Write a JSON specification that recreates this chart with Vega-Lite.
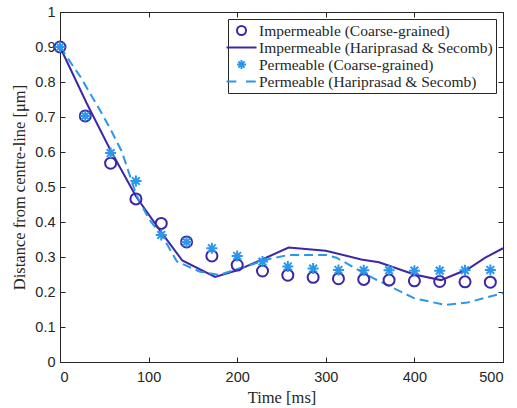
{
  "$schema": "https://vega.github.io/schema/vega-lite/v6.json",
  "width": 443,
  "height": 350,
  "autosize": "none",
  "padding": {"left": 60, "top": 12, "right": 14, "bottom": 46},
  "background": "white",
  "config": {
    "view": {"stroke": "#262626", "strokeWidth": 1},
    "axis": {
      "grid": false,
      "domainColor": "#262626",
      "tickColor": "#262626",
      "tickSize": -5,
      "labelColor": "#262626",
      "labelFont": "Liberation Sans",
      "labelFontSize": 14.5,
      "titleFont": "Liberation Serif",
      "titleFontSize": 16.5,
      "titleFontWeight": "normal",
      "titleColor": "#262626"
    },
    "legend": {
      "labelFont": "Liberation Serif",
      "labelFontSize": 15.5,
      "labelColor": "#262626",
      "labelLimit": 0
    }
  },
  "datasets": {
    "cg": [
      {"series": "Impermeable (Coarse-grained)", "t": 0, "y": 0.9},
      {"series": "Impermeable (Coarse-grained)", "t": 28.57, "y": 0.703},
      {"series": "Impermeable (Coarse-grained)", "t": 57.14, "y": 0.568},
      {"series": "Impermeable (Coarse-grained)", "t": 85.71, "y": 0.466},
      {"series": "Impermeable (Coarse-grained)", "t": 114.29, "y": 0.396},
      {"series": "Impermeable (Coarse-grained)", "t": 142.86, "y": 0.343},
      {"series": "Impermeable (Coarse-grained)", "t": 171.43, "y": 0.303},
      {"series": "Impermeable (Coarse-grained)", "t": 200, "y": 0.277},
      {"series": "Impermeable (Coarse-grained)", "t": 228.57, "y": 0.26},
      {"series": "Impermeable (Coarse-grained)", "t": 257.14, "y": 0.248},
      {"series": "Impermeable (Coarse-grained)", "t": 285.71, "y": 0.242},
      {"series": "Impermeable (Coarse-grained)", "t": 314.29, "y": 0.238},
      {"series": "Impermeable (Coarse-grained)", "t": 342.86, "y": 0.236},
      {"series": "Impermeable (Coarse-grained)", "t": 371.43, "y": 0.234},
      {"series": "Impermeable (Coarse-grained)", "t": 400, "y": 0.232},
      {"series": "Impermeable (Coarse-grained)", "t": 428.57, "y": 0.23},
      {"series": "Impermeable (Coarse-grained)", "t": 457.14, "y": 0.229},
      {"series": "Impermeable (Coarse-grained)", "t": 485.71, "y": 0.228},
      {"series": "Permeable (Coarse-grained)", "t": 0, "y": 0.9},
      {"series": "Permeable (Coarse-grained)", "t": 28.57, "y": 0.703},
      {"series": "Permeable (Coarse-grained)", "t": 57.14, "y": 0.597},
      {"series": "Permeable (Coarse-grained)", "t": 85.71, "y": 0.517},
      {"series": "Permeable (Coarse-grained)", "t": 114.29, "y": 0.363},
      {"series": "Permeable (Coarse-grained)", "t": 142.86, "y": 0.343},
      {"series": "Permeable (Coarse-grained)", "t": 171.43, "y": 0.325},
      {"series": "Permeable (Coarse-grained)", "t": 200, "y": 0.303},
      {"series": "Permeable (Coarse-grained)", "t": 228.57, "y": 0.287},
      {"series": "Permeable (Coarse-grained)", "t": 257.14, "y": 0.273},
      {"series": "Permeable (Coarse-grained)", "t": 285.71, "y": 0.267},
      {"series": "Permeable (Coarse-grained)", "t": 314.29, "y": 0.263},
      {"series": "Permeable (Coarse-grained)", "t": 342.86, "y": 0.262},
      {"series": "Permeable (Coarse-grained)", "t": 371.43, "y": 0.262},
      {"series": "Permeable (Coarse-grained)", "t": 400, "y": 0.261},
      {"series": "Permeable (Coarse-grained)", "t": 428.57, "y": 0.261},
      {"series": "Permeable (Coarse-grained)", "t": 457.14, "y": 0.262},
      {"series": "Permeable (Coarse-grained)", "t": 485.71, "y": 0.263}
    ],
    "hs": [
      {"series": "Impermeable (Hariprasad & Secomb)", "t": 0, "y": 0.9},
      {"series": "Impermeable (Hariprasad & Secomb)", "t": 30, "y": 0.74},
      {"series": "Impermeable (Hariprasad & Secomb)", "t": 57, "y": 0.605},
      {"series": "Impermeable (Hariprasad & Secomb)", "t": 86, "y": 0.472},
      {"series": "Impermeable (Hariprasad & Secomb)", "t": 114, "y": 0.372},
      {"series": "Impermeable (Hariprasad & Secomb)", "t": 138, "y": 0.29},
      {"series": "Impermeable (Hariprasad & Secomb)", "t": 175, "y": 0.243},
      {"series": "Impermeable (Hariprasad & Secomb)", "t": 200, "y": 0.262},
      {"series": "Impermeable (Hariprasad & Secomb)", "t": 230, "y": 0.295},
      {"series": "Impermeable (Hariprasad & Secomb)", "t": 258, "y": 0.327},
      {"series": "Impermeable (Hariprasad & Secomb)", "t": 300, "y": 0.318},
      {"series": "Impermeable (Hariprasad & Secomb)", "t": 340, "y": 0.293},
      {"series": "Impermeable (Hariprasad & Secomb)", "t": 360, "y": 0.285},
      {"series": "Impermeable (Hariprasad & Secomb)", "t": 400, "y": 0.25},
      {"series": "Impermeable (Hariprasad & Secomb)", "t": 430, "y": 0.234},
      {"series": "Impermeable (Hariprasad & Secomb)", "t": 460, "y": 0.265},
      {"series": "Impermeable (Hariprasad & Secomb)", "t": 480, "y": 0.298},
      {"series": "Impermeable (Hariprasad & Secomb)", "t": 500, "y": 0.325},
      {"series": "Permeable (Hariprasad & Secomb)", "t": 0, "y": 0.9},
      {"series": "Permeable (Hariprasad & Secomb)", "t": 23, "y": 0.815},
      {"series": "Permeable (Hariprasad & Secomb)", "t": 45, "y": 0.72},
      {"series": "Permeable (Hariprasad & Secomb)", "t": 57, "y": 0.665},
      {"series": "Permeable (Hariprasad & Secomb)", "t": 70, "y": 0.6},
      {"series": "Permeable (Hariprasad & Secomb)", "t": 86, "y": 0.478},
      {"series": "Permeable (Hariprasad & Secomb)", "t": 100, "y": 0.41},
      {"series": "Permeable (Hariprasad & Secomb)", "t": 117, "y": 0.353},
      {"series": "Permeable (Hariprasad & Secomb)", "t": 132, "y": 0.287},
      {"series": "Permeable (Hariprasad & Secomb)", "t": 158, "y": 0.258},
      {"series": "Permeable (Hariprasad & Secomb)", "t": 180, "y": 0.249},
      {"series": "Permeable (Hariprasad & Secomb)", "t": 203, "y": 0.268},
      {"series": "Permeable (Hariprasad & Secomb)", "t": 237, "y": 0.295},
      {"series": "Permeable (Hariprasad & Secomb)", "t": 258, "y": 0.306},
      {"series": "Permeable (Hariprasad & Secomb)", "t": 300, "y": 0.306},
      {"series": "Permeable (Hariprasad & Secomb)", "t": 312, "y": 0.298},
      {"series": "Permeable (Hariprasad & Secomb)", "t": 354, "y": 0.239},
      {"series": "Permeable (Hariprasad & Secomb)", "t": 400, "y": 0.182},
      {"series": "Permeable (Hariprasad & Secomb)", "t": 435, "y": 0.163},
      {"series": "Permeable (Hariprasad & Secomb)", "t": 460, "y": 0.17},
      {"series": "Permeable (Hariprasad & Secomb)", "t": 500, "y": 0.197}
    ]
  },
  "resolve": {"axis": {"x": "independent", "y": "independent"}},
  "layer": [
    {
      "data": {"name": "hs"},
      "transform": [{"filter": "datum.series === 'Impermeable (Hariprasad & Secomb)'"}],
      "mark": {"type": "line", "color": "#3d27a6", "strokeWidth": 2},
      "encoding": {
        "x": {"field": "t", "type": "quantitative", "scale": {"domain": [0, 500], "nice": false}, "axis": null},
        "y": {"field": "y", "type": "quantitative", "scale": {"domain": [0, 1], "nice": false}, "axis": null}
      }
    },
    {
      "data": {"name": "hs"},
      "transform": [{"filter": "datum.series === 'Permeable (Hariprasad & Secomb)'"}],
      "mark": {"type": "line", "color": "#2a97ea", "strokeWidth": 2, "strokeDash": [9, 5]},
      "encoding": {
        "x": {"field": "t", "type": "quantitative", "axis": null},
        "y": {"field": "y", "type": "quantitative", "axis": null}
      }
    },
    {
      "data": {"name": "cg"},
      "mark": {"type": "point", "filled": false, "strokeWidth": 2, "size": 338, "opacity": 1},
      "encoding": {
        "x": {"field": "t", "type": "quantitative", "axis": {"title": "Time [ms]", "values": [0, 100, 200, 300, 400, 500], "labelPadding": 13, "titlePadding": 6}},
        "y": {"field": "y", "type": "quantitative", "axis": {"title": "Distance from centre-line [μm]", "values": [0, 0.1, 0.2, 0.3, 0.4, 0.5, 0.6, 0.7, 0.8, 0.9, 1], "format": "~g", "labelPadding": 10, "titlePadding": 7}},
        "color": {
          "field": "series", "type": "nominal",
          "scale": {
            "domain": ["Impermeable (Coarse-grained)", "Impermeable (Hariprasad & Secomb)", "Permeable (Coarse-grained)", "Permeable (Hariprasad & Secomb)"],
            "range": ["#3d27a6", "#3d27a6", "#2a97ea", "#2a97ea"]
          },
          "legend": {
            "title": null,
            "orient": "top-right",
            "offset": 7,
            "padding": 3,
            "strokeColor": "#262626",
            "fillColor": "white",
            "cornerRadius": 0,
            "symbolSize": 225,
            "symbolStrokeWidth": 2,
            "symbolOffset": 2,
            "labelOffset": 9,
            "rowPadding": 0
          }
        },
        "shape": {
          "field": "series", "type": "nominal",
          "scale": {
            "domain": ["Impermeable (Coarse-grained)", "Impermeable (Hariprasad & Secomb)", "Permeable (Coarse-grained)", "Permeable (Hariprasad & Secomb)"],
            "range": [
              "M-0.6,0A0.6,0.6 0 1,1 0.6,0A0.6,0.6 0 1,1 -0.6,0Z",
              "M-2,0H2",
              "M-0.6,0H0.6M0,-0.6V0.6M-0.42,-0.42L0.42,0.42M-0.42,0.42L0.42,-0.42",
              "M-2,0H-0.7M0.6,0H1.9"
            ]
          },
          "legend": {
            "title": null,
            "orient": "top-right",
            "offset": 7,
            "padding": 3,
            "strokeColor": "#262626",
            "fillColor": "white",
            "cornerRadius": 0,
            "symbolSize": 225,
            "symbolStrokeWidth": 2,
            "symbolOffset": 2,
            "labelOffset": 9,
            "rowPadding": 0
          }
        }
      }
    },
    {
      "data": {"name": "cg"},
      "mark": {"type": "point", "opacity": 0},
      "encoding": {
        "x": {"field": "t", "type": "quantitative", "axis": {"orient": "top", "labels": false, "title": null, "values": [0, 100, 200, 300, 400, 500]}},
        "y": {"field": "y", "type": "quantitative", "axis": {"orient": "right", "labels": false, "title": null, "values": [0, 0.1, 0.2, 0.3, 0.4, 0.5, 0.6, 0.7, 0.8, 0.9, 1]}}
      }
    }
  ]
}
